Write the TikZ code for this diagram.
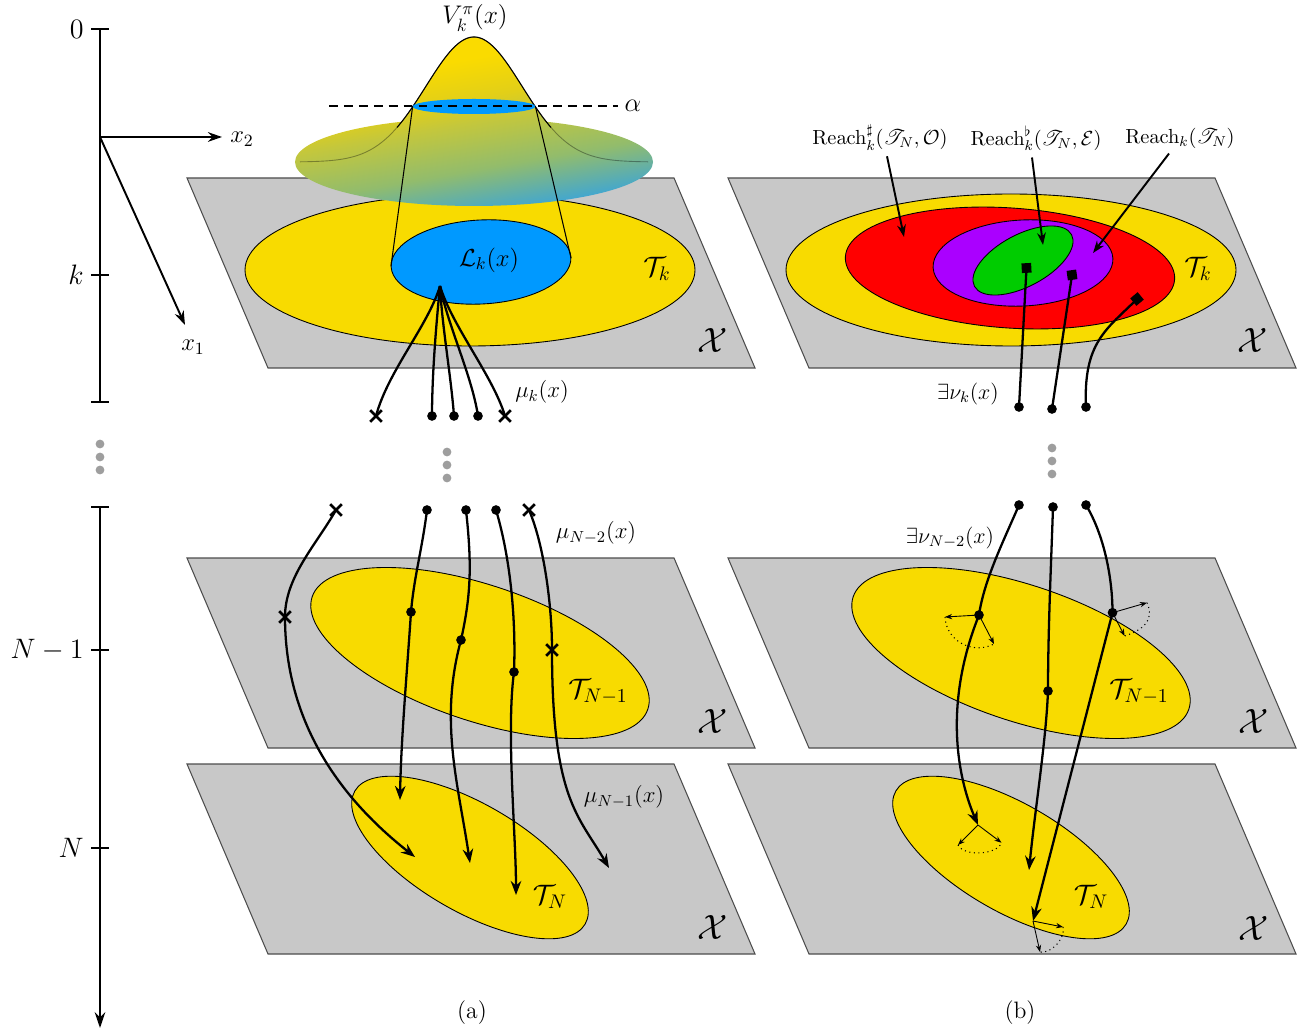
\RequirePackage{fix-cm}
\documentclass[tikz,border=0pt]{standalone}
\usepackage{amsmath,amssymb}
\usepackage{mathrsfs}
\usetikzlibrary{arrows.meta,shapes.misc}
\definecolor{planegray}{HTML}{C8C8C8}
\definecolor{planeedge}{HTML}{4D4D4D}
\definecolor{setyellow}{HTML}{F8DB00}
\definecolor{lkblue}{HTML}{0099FF}
\definecolor{rred}{HTML}{FF0000}
\definecolor{rpurple}{HTML}{AA00FF}
\definecolor{rgreen}{HTML}{00CC00}
\definecolor{gc1}{HTML}{38A4DC}
\definecolor{gc2}{HTML}{92BC6C}
\definecolor{gc3}{HTML}{C4C73C}
\definecolor{gc4}{HTML}{E2CF18}
\definecolor{gc5}{HTML}{FADB00}
\pgfdeclareverticalshading{bellsh}{100bp}{color(0bp)=(gc1); color(25bp)=(gc1); color(38bp)=(gc2); color(50bp)=(gc3); color(56bp)=(gc4); color(66bp)=(gc5); color(100bp)=(gc5)}
\begin{document}
\begin{tikzpicture}[x=0.02cm, y=-0.02cm,
  plane/.style={fill=planegray, draw=planeedge, line width=0.6pt},
  yset/.style={fill=setyellow, draw=black, line width=0.5pt},
  traj/.style={line width=1.3pt},
  tarr/.style={traj, -{Stealth[length=8pt,width=6pt]}},
  axisline/.style={line width=1.3pt},
  dotm/.style={circle, fill=black, inner sep=0pt, minimum size=5.5pt},
  xm/.style={cross out, draw=black, line width=1.6pt, inner sep=0pt, minimum size=5pt},
  sqm/.style={rectangle, fill=black, inner sep=0pt, minimum size=5.5pt},
  gdot/.style={circle, fill=black!38, inner sep=0pt, minimum size=5pt},
  thinarr/.style={line width=0.5pt, -{Stealth[length=4pt,width=3pt]}},
  fanarc/.style={dotted, line width=0.6pt},
  axlbl/.style={font=\fontsize{16}{19}\selectfont, inner sep=0pt},
  xlbl/.style={font=\fontsize{20}{24}\selectfont, inner sep=0pt},
  tlbl/.style={font=\fontsize{16}{19}\selectfont, inner sep=0pt},
  mlbl/.style={font=\fontsize{13}{16}\selectfont, inner sep=0pt},
  rlbl/.style={font=\fontsize{11.6}{14}\selectfont, inner sep=0pt},
  clbl/.style={font=\fontsize{13.5}{16}\selectfont, inner sep=0pt}
]
\useasboundingbox (0,0) rectangle (1311,1033);

% ---------------- time axis ----------------
\coordinate (ax0) at (100,29);
\coordinate (axk) at (100,275);
\coordinate (axe1) at (100,402);
\coordinate (ax2) at (100,507);
\coordinate (axN1) at (100,650);
\coordinate (axN) at (100,848);
\coordinate (axend) at (100,1028);
\draw[axisline] (ax0) -- (axe1);
\draw[axisline, -{Stealth[length=9pt,width=6pt]}] (ax2) -- (axend);
\foreach \c in {ax0,axk,axe1,ax2,axN1,axN} \draw[axisline] (\c) ++(-9,0) -- ++(18,0);
\node[axlbl, anchor=east] (l0) at (84,29) {$0$};
\node[axlbl, anchor=east] (lk) at (84,275) {$k$};
\node[axlbl, anchor=east] (lN1) at (84,650) {$N-1$};
\node[axlbl, anchor=east] (lN) at (84,848) {$N$};
\node[gdot] (gd1) at (100,444) {};
\node[gdot] (gd2) at (100,457) {};
\node[gdot] (gd3) at (100,470) {};

% state axes
\coordinate (org) at (100,137);
\coordinate (x2e) at (222,137);
\coordinate (x1e) at (185,325);
\draw[line width=1.1pt, -{Stealth[length=8pt,width=5.5pt]}] (org) -- (x2e);
\draw[line width=1.1pt, -{Stealth[length=8pt,width=5.5pt]}] (org) -- (x1e);
\node[font=\fontsize{14}{17}\selectfont, inner sep=0pt] (lx2) at (242,139) {$x_2$};
\node[font=\fontsize{14}{17}\selectfont, inner sep=0pt] (lx1) at (193,347) {$x_1$};

% ---------------- panel (a) planes ----------------
\draw[plane] (187,178) -- (674,178) -- (755,368) -- (268,368) -- cycle;
\draw[yset] (470,270) ellipse [x radius=225, y radius=76];
\draw[fill=lkblue, draw=black, line width=0.5pt, rotate around={3:(481,262)}] (481,262) ellipse [x radius=90, y radius=42];

\draw[plane] (187,558) -- (674,558) -- (755,748) -- (268,748) -- cycle;
\draw[yset, rotate around={-18.5:(480,653)}] (480,653) ellipse [x radius=177, y radius=68];

\draw[plane] (187,764) -- (674,764) -- (755,954) -- (268,954) -- cycle;
\draw[yset, rotate around={-30:(470,857.5)}] (470,857.5) ellipse [x radius=133, y radius=54];

% value function bell
\begin{scope}
  \clip plot[domain=300:648, samples=120] (\x, {162-125*exp(-0.5*((\x-474)/48)*((\x-474)/48))}) -- cycle;
  \shade[shading=bellsh, shading angle=10] (293,37) rectangle (655,207);
\end{scope}
\begin{scope}
  \clip (474,162) ellipse [x radius=179, y radius=44];
  \shade[shading=bellsh, shading angle=10] (293,37) rectangle (655,207);
\end{scope}
\draw[black, opacity=0.35, line width=0.5pt] plot[domain=300:648, samples=120] (\x, {162-125*exp(-0.5*((\x-474)/48)*((\x-474)/48))});
\draw[black, line width=0.6pt] plot[domain=397:551, samples=80] (\x, {162-125*exp(-0.5*((\x-474)/48)*((\x-474)/48))});
\fill[lkblue] (474,106.5) ellipse [x radius=61.5, y radius=7.5];
\coordinate (dl) at (329,106);
\coordinate (dr) at (618,106);
\draw[dash pattern=on 5pt off 3.5pt, line width=0.6pt] (dl) -- (dr);
\coordinate (cl1) at (412.7,106);
\coordinate (cl2) at (391,266);
\coordinate (cr1) at (535.3,106);
\coordinate (cr2) at (571,258);
\draw[line width=0.6pt] (cl1) -- (cl2);
\draw[line width=0.6pt] (cr1) -- (cr2);
\node[font=\fontsize{14.5}{17}\selectfont, inner sep=0pt] (vlab) at (475,18) {$V_k^{\pi}(x)$};
\node[font=\fontsize{15}{18}\selectfont, inner sep=0pt] (alab) at (633,106) {$\alpha$};
\node[font=\fontsize{14}{17}\selectfont, inner sep=0pt] (lklab) at (489,260) {$\mathcal{L}_k(x)$};
\node[tlbl] (tka) at (657,269) {$\mathcal{T}_k$};
\node[xlbl] (xa1) at (713,340) {$\mathcal{X}$};
\node[tlbl] (tn1a) at (598,692) {$\mathcal{T}_{N-1}$};
\node[xlbl] (xa2) at (713,721) {$\mathcal{X}$};
\node[tlbl] (tna) at (550,897) {$\mathcal{T}_N$};
\node[xlbl] (xa3) at (713,927) {$\mathcal{X}$};

% fan of inputs at time k
\coordinate (cv) at (440,286);
\node[xm] (f1) at (376,416) {};
\node[dotm] (f2) at (432,416) {};
\node[dotm] (f3) at (454,416) {};
\node[dotm] (f4) at (478,416) {};
\node[xm] (f5) at (505,416) {};
\draw[traj] (cv) .. controls +(-12,40) and +(12,-45) .. (f1.center);
\draw[traj] (cv) .. controls +(-4,40) and +(0,-40) .. (f2.center);
\draw[traj] (cv) .. controls +(2,40) and +(-3,-40) .. (f3.center);
\draw[traj] (cv) .. controls +(8,40) and +(-6,-40) .. (f4.center);
\draw[traj] (cv) .. controls +(12,40) and +(-12,-40) .. (f5.center);
\node[mlbl] (muk) at (542,392) {$\mu_k(x)$};
\node[gdot] (ga1) at (447,452) {};
\node[gdot] (ga2) at (447,465) {};
\node[gdot] (ga3) at (447,478) {};

% trajectories (a)
\node[xm] (a1s) at (336,510) {};
\node[dotm] (a2s) at (427,510) {};
\node[dotm] (a3s) at (466,510) {};
\node[dotm] (a4s) at (496,510) {};
\node[xm] (a5s) at (529,510) {};
\node[xm] (a1m) at (285,617) {};
\node[dotm] (a2m) at (411,612) {};
\node[dotm] (a3m) at (461,640) {};
\node[dotm] (a4m) at (514,672) {};
\node[xm] (a5m) at (552,650) {};
\coordinate (a1e) at (415,857);
\coordinate (a2e) at (400,800);
\coordinate (a3e) at (470,863);
\coordinate (a4e) at (516,895);
\coordinate (a5e) at (609,868);
\draw[tarr] (a1s.center) .. controls +(-20,35) and +(0,-40) .. (a1m.center) .. controls +(0,110) and +(-70,-55) .. (a1e);
\draw[tarr] (a2s.center) .. controls +(-5,40) and +(3,-35) .. (a2m.center) .. controls +(-4,60) and +(1,-60) .. (a2e);
\draw[tarr] (a3s.center) .. controls +(6,55) and +(10,-45) .. (a3m.center) .. controls +(-22,80) and +(-12,-80) .. (a3e);
\draw[tarr] (a4s.center) .. controls +(15,50) and +(2,-50) .. (a4m.center) .. controls +(-8,60) and +(0,-60) .. (a4e);
\draw[tarr] (a5s.center) .. controls +(15,35) and +(0,-45) .. (a5m.center) .. controls +(0,150) and +(-30,-52) .. (a5e);
\node[mlbl] (mun2) at (596,533) {$\mu_{N-2}(x)$};
\node[mlbl] (mun1) at (624,797) {$\mu_{N-1}(x)$};
\node[clbl] (capa) at (472,1013) {(a)};

% ---------------- panel (b) planes ----------------
\draw[plane] (728,178) -- (1215,178) -- (1296,368) -- (809,368) -- cycle;
\draw[yset] (1011,270) ellipse [x radius=225, y radius=76];
\draw[fill=rred, draw=black, line width=0.5pt, rotate around={-4:(1010,268)}] (1010,268) ellipse [x radius=165, y radius=60];
\draw[fill=rpurple, draw=black, line width=0.5pt, rotate around={3:(1023,263)}] (1023,263) ellipse [x radius=90, y radius=43];
\draw[fill=rgreen, draw=black, line width=0.5pt, rotate around={28:(1023,260.5)}] (1023,260.5) ellipse [x radius=55, y radius=26];
\node[tlbl] (tkb) at (1198,269) {$\mathcal{T}_k$};
\node[xlbl] (xb1) at (1253,340) {$\mathcal{X}$};

\draw[plane] (728,558) -- (1215,558) -- (1296,748) -- (809,748) -- cycle;
\draw[yset, rotate around={-18.5:(1021,653)}] (1021,653) ellipse [x radius=177, y radius=68];
\node[tlbl] (tn1b) at (1139,692) {$\mathcal{T}_{N-1}$};
\node[xlbl] (xb2) at (1254,721) {$\mathcal{X}$};

\draw[plane] (728,764) -- (1215,764) -- (1296,954) -- (809,954) -- cycle;
\draw[yset, rotate around={-30:(1011,857.5)}] (1011,857.5) ellipse [x radius=133, y radius=54];
\node[tlbl] (tnb) at (1091,897) {$\mathcal{T}_N$};
\node[xlbl] (xb3) at (1254,928) {$\mathcal{X}$};

% reach labels
\node[rlbl] (ra) at (880,138) {$\mathrm{Reach}^{\sharp}_k(\mathscr{T}_N,\mathcal{O})$};
\node[rlbl] (rb) at (1036,138) {$\mathrm{Reach}^{\flat}_k(\mathscr{T}_N,\mathcal{E})$};
\node[rlbl] (rc) at (1180,138) {$\mathrm{Reach}_k(\mathscr{T}_N)$};
\coordinate (ha) at (904,237);
\coordinate (hb) at (1043,245);
\coordinate (hc) at (1093,253);
\draw[line width=1.1pt, -{Stealth[length=7pt,width=5pt]}] (ra.south) ++(7,5) -- (ha);
\draw[line width=1.1pt, -{Stealth[length=7pt,width=5pt]}] (rb.south) ++(-4,7) -- (hb);
\draw[line width=1.1pt, -{Stealth[length=7pt,width=5pt]}] (rc.south) ++(-11,5) -- (hc);

% controls at time k (b)
\node[sqm, rotate=3] (s1) at (1026.5,268) {};
\node[sqm, rotate=8] (s2) at (1072,275) {};
\node[sqm, rotate=40] (s3) at (1137,299) {};
\node[dotm] (g1) at (1019,407) {};
\node[dotm] (g2) at (1052,409) {};
\node[dotm] (g3) at (1086,407) {};
\draw[traj] (g1.center) -- (s1.center);
\draw[traj] (g2.center) -- (s2.center);
\draw[traj] (g3.center) .. controls +(-3,-65) and +(-30,30) .. (s3.center);
\node[font=\fontsize{12.5}{15}\selectfont, inner sep=0pt] (nuk) at (968,394) {$\exists\nu_k(x)$};
\node[gdot] (gb1) at (1052,448) {};
\node[gdot] (gb2) at (1052,461) {};
\node[gdot] (gb3) at (1052,474) {};

% trajectories (b)
\node[dotm] (b1s) at (1019,505) {};
\node[dotm] (b2s) at (1053,507) {};
\node[dotm] (b3s) at (1086,505) {};
\node[dotm] (b1m) at (979,615) {};
\node[dotm] (b2m) at (1048,691) {};
\node[dotm] (b3m) at (1112.5,612.7) {};
\coordinate (b1e) at (978,825);
\coordinate (b2e) at (1029,870);
\coordinate (b3e) at (1033,921);
\draw[tarr] (b1s.center) .. controls +(-15,35) and +(5,-35) .. (b1m.center) .. controls +(-40,100) and +(-15,-35) .. (b1e);
\draw[tarr] (b2s.center) .. controls +(-2,60) and +(0,-60) .. (b2m.center) .. controls +(-2,50) and +(6,-60) .. (b2e);
\draw[tarr] (b3s.center) .. controls +(18,30) and +(0,-35) .. (b3m.center) -- (b3e);
\node[font=\fontsize{12.5}{15}\selectfont, inner sep=0pt] (nun2) at (950,538) {$\exists\nu_{N-2}(x)$};

% input fans
\coordinate (p1a) at (945,617);
\coordinate (p1b) at (994,644);
\draw[thinarr] (b1m.center) -- (p1a);
\draw[thinarr] (b1m.center) -- (p1b);
\draw[fanarc] (p1a) .. controls +(1,24) and +(-21,11) .. (p1b);
\coordinate (p3a) at (1147,602.7);
\coordinate (p3b) at (1124.6,636);
\draw[thinarr] (b3m.center) -- (p3a);
\draw[thinarr] (b3m.center) -- (p3b);
\draw[fanarc] (p3a) .. controls +(8,18) and +(18,-6) .. (p3b);
\coordinate (q1a) at (958,845);
\coordinate (q1b) at (1001.5,842.7);
\draw[thinarr] (b1e) -- (q1a);
\draw[thinarr] (b1e) -- (q1b);
\draw[fanarc] (q1a) .. controls +(6,12) and +(-4,12) .. (q1b);
\coordinate (q3a) at (1063,927);
\coordinate (q3b) at (1040,952);
\draw[thinarr] (b3e) -- (q3a);
\draw[thinarr] (b3e) -- (q3b);
\draw[fanarc] (q3a) .. controls +(3,10) and +(12,2) .. (q3b);

\node[clbl] (capb) at (1020,1013) {(b)};
\end{tikzpicture}
\end{document}
